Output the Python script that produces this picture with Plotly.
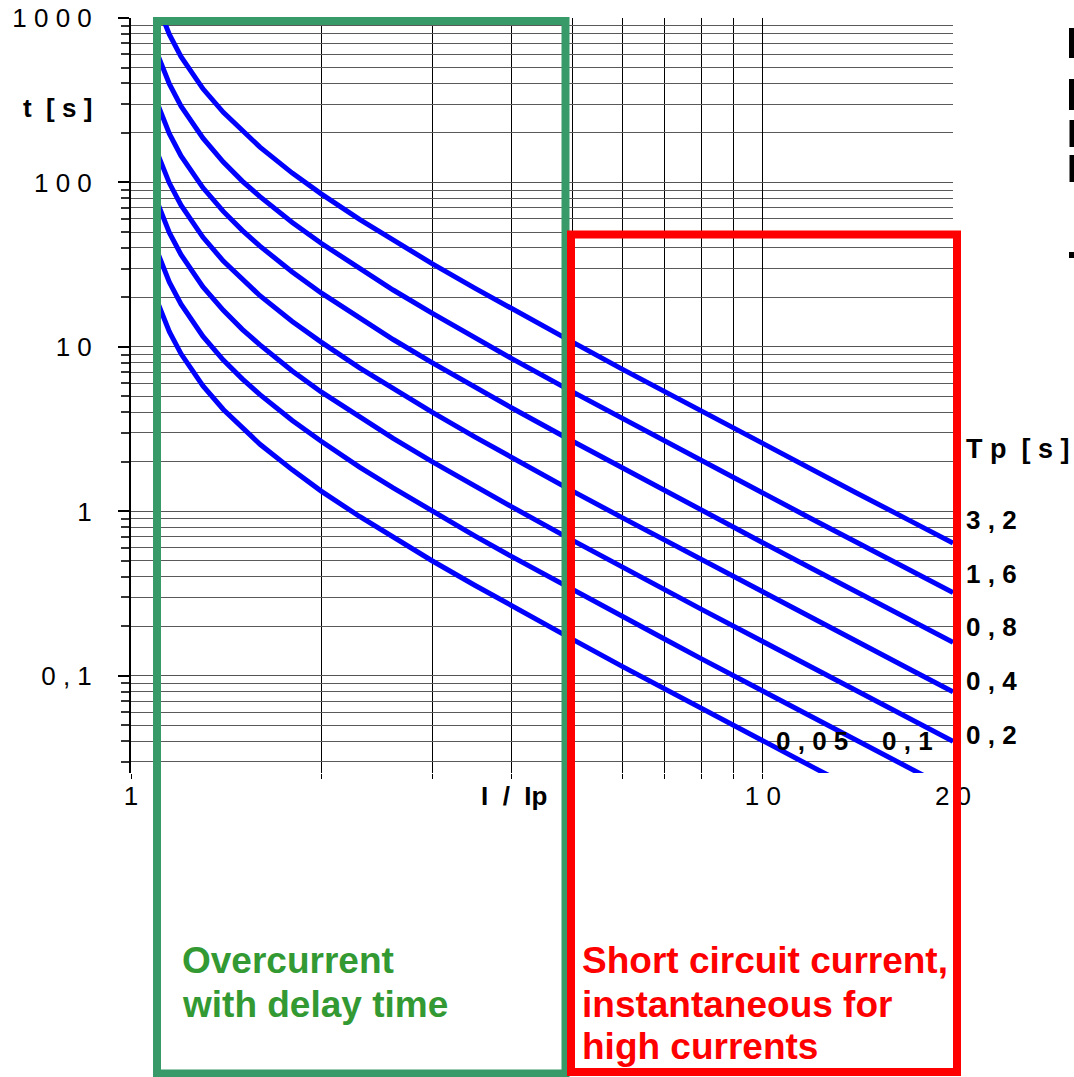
import plotly.graph_objects as go

# ---- data ----
I_ratio = [1.1, 1.15, 1.2, 1.3, 1.4, 1.5, 1.6, 1.8, 2, 2.3, 2.6, 3, 3.5, 4, 5, 6, 7, 8, 10, 12, 14, 17, 20]

t_3_2 = [1219, 794, 582, 371, 267, 205, 164, 114, 85.3, 59.7, 44.4, 32, 22.8, 17.1, 10.7, 7.31, 5.33, 4.06, 2.59, 1.79, 1.31, 0.889, 0.642]
t_1_6 = [610, 397, 291, 186, 133, 102, 82.1, 57.1, 42.7, 29.8, 22.2, 16, 11.4, 8.53, 5.33, 3.66, 2.67, 2.03, 1.29, 0.894, 0.656, 0.444, 0.321]
t_0_8 = [305, 198, 145, 92.8, 66.7, 51.2, 41.0, 28.6, 21.3, 14.9, 11.1, 8.0, 5.69, 4.27, 2.67, 1.83, 1.33, 1.02, 0.646, 0.447, 0.328, 0.222, 0.160]
t_0_4 = [152, 99.2, 72.7, 46.4, 33.3, 25.6, 20.5, 14.3, 10.7, 7.46, 5.56, 4.0, 2.84, 2.13, 1.33, 0.914, 0.667, 0.508, 0.323, 0.224, 0.164, 0.111, 0.080]
t_0_2 = [76.2, 49.6, 36.4, 23.2, 16.7, 12.8, 10.3, 7.14, 5.33, 3.73, 2.78, 2.0, 1.42, 1.07, 0.667, 0.457, 0.333, 0.254, 0.162, 0.112, 0.082, 0.056, 0.040]
t_0_1 = [38.1, 24.8, 18.2, 11.6, 8.33, 6.4, 5.13, 3.57, 2.67, 1.86, 1.39, 1.0, 0.711, 0.533, 0.333, 0.229, 0.167, 0.127, 0.081, 0.056, 0.041, 0.028, 0.020]
t_0_05 = [19.0, 12.4, 9.09, 5.80, 4.17, 3.2, 2.56, 1.79, 1.33, 0.932, 0.694, 0.5, 0.356, 0.267, 0.167, 0.114, 0.083, 0.0635, 0.0404, 0.0279, 0.0205, 0.0139, 0.0100]

series = [t_3_2, t_1_6, t_0_8, t_0_4, t_0_2, t_0_1, t_0_05]

x_tickvals = [1, 10, 20]
x_ticktext = ["1", "1 0", "2 0"]
x_minor = [2, 3, 4, 5, 6, 7, 8, 9]

y_tickvals = [0.1, 1, 10, 100, 1000]
y_ticktext = ["0 , 1", "1", "1 0", "1 0 0", "1 0 0 0"]
y_minor = [0.03, 0.04, 0.05, 0.06, 0.07, 0.08, 0.09,
           0.2, 0.3, 0.4, 0.5, 0.6, 0.7, 0.8, 0.9,
           2, 3, 4, 5, 6, 7, 8, 9,
           20, 30, 40, 50, 60, 70, 80, 90,
           200, 300, 400, 500, 600, 700, 800, 900]

tp_labels = ["3 , 2", "1 , 6", "0 , 8", "0 , 4", "0 , 2"]

# ---- layout geometry (pixels) ----
W, H = 1074, 1077
L, R, T, B = 131, 953, 18, 773
PW, PH = R - L, B - T


def px(x):
    return (x - L) / PW


def py(y):
    return (B - y) / PH


FONT = "Liberation Sans, Arial, sans-serif"

fig = go.Figure()
for ys in series:
    fig.add_trace(go.Scatter(x=I_ratio, y=ys, mode="lines",
                             line=dict(color="#0000FF", width=5),
                             hoverinfo="skip", showlegend=False))

fig.update_xaxes(
    type="log", range=[0, 1.30103],
    tickmode="array", tickvals=x_tickvals, ticktext=x_ticktext,
    ticks="outside", ticklen=5, tickcolor="black", tickwidth=1,
    showgrid=True, gridcolor="black", gridwidth=1,
    minor=dict(tickmode="array", tickvals=x_minor, ticks="outside", ticklen=5,
               tickcolor="black", showgrid=True, gridcolor="black", gridwidth=1),
    showline=False, zeroline=False,
    tickfont=dict(family=FONT, size=26, color="black"),
    ticklabelstandoff=-5,
)
fig.update_yaxes(
    type="log", range=[-1.59, 3],
    tickmode="array", tickvals=y_tickvals, ticktext=y_ticktext,
    ticks="outside", ticklen=11, tickcolor="black", tickwidth=2,
    showgrid=True, gridcolor="#555555", gridwidth=1,
    minor=dict(tickmode="array", tickvals=y_minor, ticks="outside", ticklen=8,
               tickcolor="#333333", tickwidth=1.5, showgrid=True, gridcolor="#5a5a5a", gridwidth=1),
    showline=True, linecolor="black", linewidth=2, zeroline=False,
    tickfont=dict(family=FONT, size=26, color="black"),
    ticklabelstandoff=21,
)

shapes = [
    # green box
    dict(type="rect", xref="paper", yref="paper",
         x0=px(157), x1=px(565.5), y0=py(1073.5), y1=py(21),
         line=dict(color="#389A69", width=8), fillcolor="rgba(0,0,0,0)", layer="above"),
    # red box
    dict(type="rect", xref="paper", yref="paper",
         x0=px(571), x1=px(957), y0=py(1072), y1=py(234.5),
         line=dict(color="#FF0000", width=8), fillcolor="rgba(0,0,0,0)", layer="above"),
]
# clipped letters at the right edge
for (y0, y1, x0) in [(28, 58, 1069), (79, 110, 1069), (120, 147, 1069.5), (155, 182, 1069.5), (252, 258, 1069)]:
    shapes.append(dict(type="rect", xref="paper", yref="paper",
                       x0=px(x0), x1=px(1075), y0=py(y1), y1=py(y0),
                       line=dict(width=0), fillcolor="black", layer="above"))

ann = []


def add_text(text, x, y, size=26, color="black", bold=True, xanchor="left"):
    t = f"<b>{text}</b>" if bold else text
    ann.append(dict(text=t, xref="paper", yref="paper", x=px(x - 3), y=py(y),
                    xanchor=xanchor, yanchor="middle", showarrow=False,
                    font=dict(family=FONT, size=size, color=color)))


add_text("t  [ s ]", 24, 108)
add_text("I  /  Ip", 482, 796)
add_text("T p  [ s ]", 967, 449, size=27)
for lab, yc in zip(tp_labels, [520, 574, 627, 681, 735]):
    add_text(lab, 967, yc)
add_text("0 , 0 5", 777, 741)
add_text("0 , 1", 883, 741)

GREEN_TXT = "#339933"
add_text("Overcurrent", 183, 960, size=37, color=GREEN_TXT)
add_text("with delay time", 183, 1004, size=37, color=GREEN_TXT)
add_text("Short circuit current,", 583, 960, size=37, color="#FF0000")
add_text("instantaneous for", 583, 1004, size=37, color="#FF0000")
add_text("high currents", 583, 1046, size=37, color="#FF0000")

fig.update_layout(
    width=W, height=H,
    margin=dict(l=L, r=W - R, t=T, b=H - B, pad=0, autoexpand=False),
    paper_bgcolor="white", plot_bgcolor="white",
    shapes=shapes, annotations=ann, showlegend=False,
)

fig.write_html("out.html",
               config={"displayModeBar": False},
               post_script="document.body.style.margin='0px';document.body.style.overflow='hidden';")
